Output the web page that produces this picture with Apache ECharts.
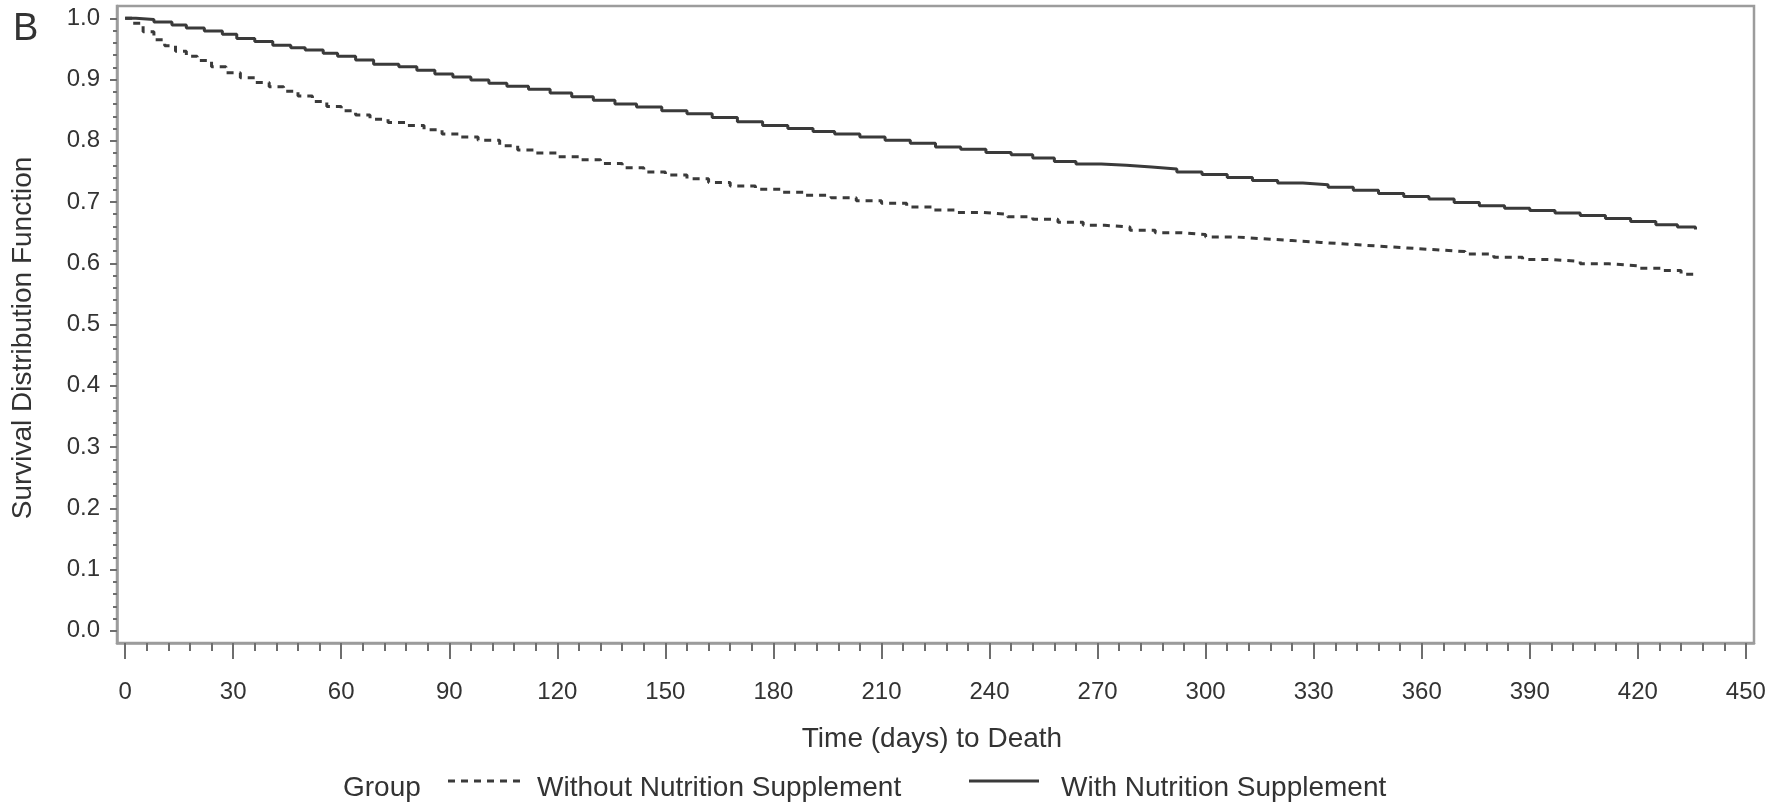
<!DOCTYPE html>
<html>
<head>
<meta charset="utf-8">
<script src="https://cdn.jsdelivr.net/npm/echarts@6/dist/echarts.min.js"></script>
<style>
  html, body { margin: 0; padding: 0; background: #ffffff; }
  #chart { width: 1787px; height: 804px; }
</style>
</head>
<body>
<div id="chart"></div>
<script>
// Kaplan-Meier survival estimates, time in days
const withoutDays = [0, 2, 5, 8, 11, 14, 17, 20, 24, 28, 32, 36, 40, 44, 48, 52, 56, 60, 64, 68, 73, 78, 83, 88, 93, 98, 104, 109, 114, 120, 126, 132, 138, 144, 150, 156, 162, 168, 175, 182, 189, 196, 203, 210, 217, 224, 231, 238, 245, 252, 259, 266, 272, 279, 286, 293, 300, 308, 316, 324, 332, 340, 348, 356, 364, 372, 380, 388, 396, 404, 412, 420, 427, 432, 436];
const withoutSurv = [1.000, 0.992, 0.978, 0.965, 0.955, 0.946, 0.938, 0.931, 0.921, 0.911, 0.903, 0.895, 0.888, 0.881, 0.873, 0.864, 0.856, 0.849, 0.842, 0.835, 0.830, 0.825, 0.818, 0.811, 0.806, 0.801, 0.792, 0.785, 0.780, 0.774, 0.769, 0.763, 0.756, 0.749, 0.744, 0.738, 0.732, 0.726, 0.721, 0.716, 0.711, 0.707, 0.702, 0.698, 0.692, 0.687, 0.683, 0.680, 0.676, 0.672, 0.667, 0.662, 0.659, 0.654, 0.650, 0.647, 0.643, 0.640, 0.637, 0.634, 0.631, 0.628, 0.625, 0.622, 0.619, 0.615, 0.610, 0.606, 0.603, 0.599, 0.596, 0.592, 0.588, 0.582, 0.576];

const withDays = [0, 3, 8, 13, 17, 22, 27, 31, 36, 41, 46, 50, 55, 59, 64, 69, 76, 81, 86, 91, 96, 101, 106, 112, 118, 124, 130, 136, 142, 149, 156, 163, 170, 177, 184, 191, 197, 204, 211, 218, 225, 232, 239, 246, 252, 258, 264, 271, 278, 285, 292, 299, 306, 313, 320, 327, 334, 341, 348, 355, 362, 369, 376, 383, 390, 397, 404, 411, 418, 425, 431, 436];
const withSurv = [1.000, 0.998, 0.994, 0.989, 0.984, 0.979, 0.974, 0.967, 0.962, 0.956, 0.952, 0.948, 0.943, 0.938, 0.932, 0.925, 0.921, 0.915, 0.909, 0.904, 0.899, 0.894, 0.889, 0.884, 0.878, 0.872, 0.866, 0.860, 0.855, 0.849, 0.844, 0.838, 0.831, 0.825, 0.820, 0.815, 0.811, 0.806, 0.801, 0.796, 0.790, 0.786, 0.781, 0.777, 0.772, 0.766, 0.762, 0.760, 0.757, 0.754, 0.749, 0.745, 0.740, 0.735, 0.731, 0.728, 0.724, 0.719, 0.714, 0.709, 0.705, 0.699, 0.694, 0.690, 0.686, 0.682, 0.678, 0.673, 0.668, 0.663, 0.659, 0.655];

const groupNames = ['Without Nutrition Supplement', 'With Nutrition Supplement'];

// Axis tick labels
const xTicks = [0, 30, 60, 90, 120, 150, 180, 210, 240, 270, 300, 330, 360, 390, 420, 450];
const yTicks = [0.0, 0.1, 0.2, 0.3, 0.4, 0.5, 0.6, 0.7, 0.8, 0.9, 1.0];

// Minor ticks: every 6 days on x, every 0.02 on y
const xMinor = [];
for (let d = 6; d < 450; d += 6) if (d % 30 !== 0) xMinor.push(d);
const yMinor = [];
for (let k = 1; k < 50; k++) if (k % 5 !== 0) yMinor.push(+(k * 0.02).toFixed(2));

const FONT = '"Liberation Sans", Arial, Helvetica, sans-serif';
const TEXT = '#333333';
const AXIS = '#9c9c9c';
const TICK = '#6e6e6e';
const INK = '#3a3a3a';

const pairs = (xs, ys) => xs.map((x, i) => [x, ys[i]]);

const chart = echarts.init(document.getElementById('chart'), null, { renderer: 'canvas' });

const xBase = { type: 'value', min: -2.25, max: 452.25, position: 'bottom', splitLine: { show: false } };
const yBase = { type: 'value', min: -0.02, max: 1.02, position: 'left', splitLine: { show: false } };

chart.setOption({
  animation: false,
  backgroundColor: '#ffffff',
  grid: {
    left: 117, top: 6, width: 1637, height: 637,
    show: true, borderColor: AXIS, borderWidth: 2.5, backgroundColor: 'transparent'
  },
  xAxis: [
    Object.assign({}, xBase, {
      axisLine: { show: true, onZero: false, lineStyle: { color: AXIS, width: 2.5 } },
      axisTick: { show: true, customValues: xTicks, length: 16, lineStyle: { color: TICK, width: 2 } },
      axisLabel: {
        show: true, customValues: xTicks, margin: 37,
        fontSize: 24, fontFamily: FONT, color: TEXT,
        formatter: v => String(Math.round(v))
      }
    }),
    Object.assign({}, xBase, {
      axisLine: { show: false, onZero: false },
      axisTick: { show: true, customValues: xMinor, length: 8, lineStyle: { color: TICK, width: 2 } },
      axisLabel: { show: false }
    })
  ],
  yAxis: [
    Object.assign({}, yBase, {
      axisLine: { show: true, onZero: false, lineStyle: { color: AXIS, width: 2.5 } },
      axisTick: { show: true, customValues: yTicks, length: 7, lineStyle: { color: TICK, width: 2 } },
      axisLabel: {
        show: true, customValues: yTicks, margin: 17, padding: [7, 0, 0, 0],
        fontSize: 24, fontFamily: FONT, color: TEXT,
        formatter: v => v.toFixed(1)
      }
    }),
    Object.assign({}, yBase, {
      axisLine: { show: false, onZero: false },
      axisTick: { show: true, customValues: yMinor, length: 4, lineStyle: { color: TICK, width: 2 } },
      axisLabel: { show: false }
    })
  ],
  series: [
    {
      name: groupNames[0], type: 'line', step: 'end', symbol: 'none',
      xAxisIndex: 0, yAxisIndex: 0,
      data: pairs(withoutDays, withoutSurv),
      lineStyle: { color: INK, width: 3, type: [7, 6] }
    },
    {
      name: groupNames[1], type: 'line', step: 'end', symbol: 'none',
      xAxisIndex: 0, yAxisIndex: 0,
      data: pairs(withDays, withSurv),
      lineStyle: { color: INK, width: 3, type: 'solid' }
    }
  ],
  graphic: [
    // panel letter
    { type: 'text', x: 13, y: 30, style: { text: 'B', fontSize: 38, fontFamily: FONT, fill: TEXT, align: 'left', verticalAlign: 'middle' } },
    // axis titles
    { type: 'text', x: 23, y: 338, rotation: Math.PI / 2,
      style: { text: 'Survival Distribution Function', fontSize: 28, fontFamily: FONT, fill: TEXT, align: 'center', verticalAlign: 'middle' } },
    { type: 'text', x: 932, y: 739,
      style: { text: 'Time (days) to Death', fontSize: 28, fontFamily: FONT, fill: TEXT, align: 'center', verticalAlign: 'middle' } },
    // legend
    { type: 'text', x: 343, y: 788, style: { text: 'Group', fontSize: 28, fontFamily: FONT, fill: TEXT, align: 'left', verticalAlign: 'middle' } },
    { type: 'line', shape: { x1: 448, y1: 781, x2: 521, y2: 781 }, style: { stroke: INK, lineWidth: 3, lineDash: [7, 6] } },
    { type: 'text', x: 537, y: 788, style: { text: groupNames[0], fontSize: 28, fontFamily: FONT, fill: TEXT, align: 'left', verticalAlign: 'middle' } },
    { type: 'line', shape: { x1: 969, y1: 781, x2: 1039, y2: 781 }, style: { stroke: INK, lineWidth: 3 } },
    { type: 'text', x: 1061, y: 788, style: { text: groupNames[1], fontSize: 28, fontFamily: FONT, fill: TEXT, align: 'left', verticalAlign: 'middle' } }
  ]
});
</script>
</body>
</html>
